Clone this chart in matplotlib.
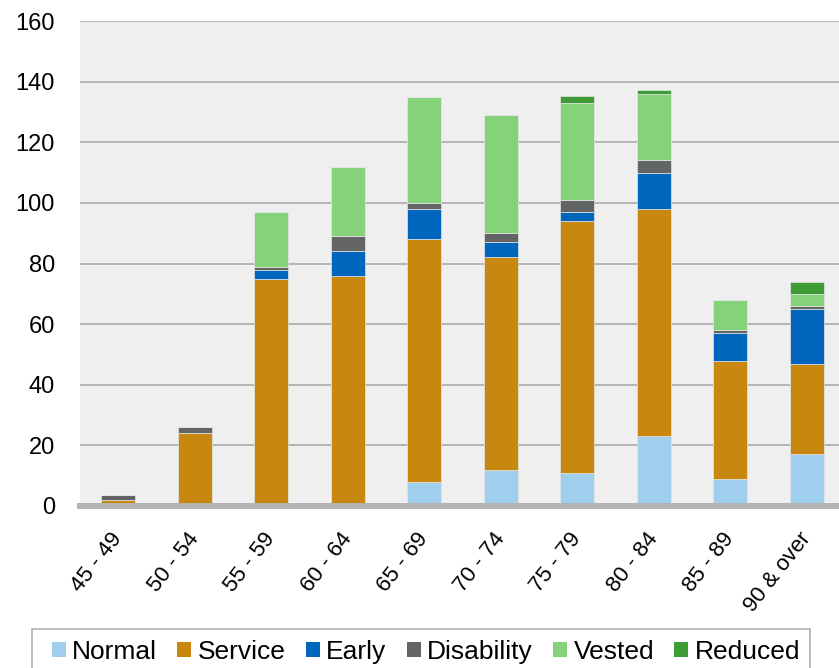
import matplotlib
matplotlib.use("Agg")
import matplotlib.pyplot as plt
from matplotlib.patches import Rectangle, Patch
import numpy as np

plt.rcParams['font.family'] = ['Liberation Sans', 'DejaVu Sans']

age_groups = ["45 - 49", "50 - 54", "55 - 59", "60 - 64", "65 - 69",
              "70 - 74", "75 - 79", "80 - 84", "85 - 89", "90 & over"]

normal     = [0, 0, 0, 0, 8, 12, 11, 23, 9, 17]
service    = [2, 24, 75, 76, 80, 70, 83, 75, 39, 30]
early      = [0, 0, 3, 8, 10, 5, 3, 12, 9, 18]
disability = [1.5, 2, 1, 5, 2, 3, 4, 4, 1, 1]
vested     = [0, 0, 18, 23, 35, 39, 32, 22, 10, 4]
reduced    = [0, 0, 0, 0, 0, 0, 2.3, 1.3, 0, 4]

series = [
    ("Normal", normal, "#9fcfec"),
    ("Service", service, "#c8880f"),
    ("Early", early, "#0066bd"),
    ("Disability", disability, "#636466"),
    ("Vested", vested, "#86d27b"),
    ("Reduced", reduced, "#3f9b36"),
]

W, H = 839, 668
fig = plt.figure(figsize=(W / 100, H / 100), dpi=100)
ax = fig.add_axes([80 / W, 162 / H, 765 / W, 485 / H])
ax.set_facecolor("#efefef")

x = np.arange(len(age_groups))
bottom = np.zeros(len(age_groups))
for name, vals, color in series:
    vals = np.array(vals, dtype=float)
    ax.bar(x, vals, width=0.44, bottom=bottom, color=color,
           edgecolor="#e6e6e6", linewidth=0.5, zorder=3)
    bottom += vals

ax.set_xlim(-0.5, len(age_groups) - 0.5)
ax.set_ylim(0, 160)
ax.set_yticks(np.arange(0, 161, 20))
ax.yaxis.grid(True, color="#b5b5b5", linewidth=1.4, zorder=1)
ax.set_axisbelow(True)
for s in ax.spines.values():
    s.set_visible(False)
ax.axhline(0, color="#b3b3b3", linewidth=4.3, zorder=4, clip_on=False)

ax.tick_params(axis="y", length=0, pad=18, labelsize=17)
ax.tick_params(axis="x", length=0, pad=21, labelsize=16)
ax.set_xticks(x)
ax.set_xticklabels(age_groups, rotation=52, ha="right", va="center",
                   rotation_mode="anchor")

# legend box along the bottom edge
fig.patches.append(Rectangle((32 / W, -10 / H), 778 / W, (668 - 629 + 10) / H,
                             transform=fig.transFigure, facecolor="white",
                             edgecolor="#b0b0b0", linewidth=1.2))
handles = [Patch(facecolor=c, edgecolor="none") for _, _, c in series]
fig.legend(handles, [n for n, _, _ in series], ncol=6, frameon=False,
           loc="center", bbox_to_anchor=(426 / W, 1 - 652 / H),
           fontsize=19, handlelength=0.53, handleheight=0.53,
           handletextpad=0.25, columnspacing=0.76, borderpad=0)

fig.savefig("out.png", dpi=100)
